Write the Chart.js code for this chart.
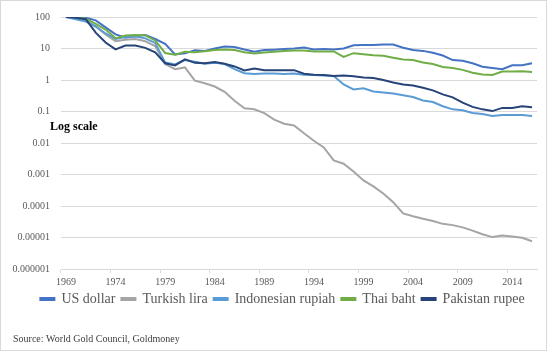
<!DOCTYPE html>
<html><head><meta charset="utf-8">
<script src="https://cdn.jsdelivr.net/npm/chart.js@4"></script>
<style>
html,body{margin:0;padding:0;background:#fff;}
canvas{display:block}
</style></head><body>
<canvas id="c" width="547" height="351"></canvas>
<script>
const years = ['1969','1970','1971','1972','1973','1974','1975','1976','1977','1978',
  '1979','1980','1981','1982','1983','1984','1985','1986','1987','1988',
  '1989','1990','1991','1992','1993','1994','1995','1996','1997','1998',
  '1999','2000','2001','2002','2003','2004','2005','2006','2007','2008',
  '2009','2010','2011','2012','2013','2014','2015','2016'];
const xTickLabels = ['1969','1974','1979','1984','1989','1994','1999','2004','2009','2014'];

const usDollar = [100,100,95,78,47,28,22,25,27,20,
  14,6.5,7.0,8.8,8.3,10,11.5,11.2,9.3,7.9,
  8.9,9.2,9.6,10,10.7,9.3,9.6,9.3,10,12.6,
  12.8,12.8,13.3,13.3,10.6,8.9,8.4,7.3,6.0,4.3,
  4.1,3.4,2.65,2.4,2.2,2.95,2.95,3.4];
const turkishLira = [100,92,75,50,28,17,19,20,17,12,
  3.2,2.2,2.5,0.95,0.79,0.62,0.42,0.22,0.127,0.118,
  0.089,0.055,0.041,0.036,0.0204,0.0118,0.0072,0.0028,0.0022,0.00124,
  0.00065,0.00042,0.00025,0.000132,0.000058,0.000047,0.0000396,0.0000336,0.0000271,0.0000247,
  0.000021,0.0000165,0.0000127,0.0000103,0.0000116,0.0000107,0.0000098,0.0000076];
const indonesianRupiah = [100,85,72,50,30,20,23,24,21,15,
  3.6,3.1,4.3,3.8,3.3,3.5,3.2,2.2,1.65,1.55,
  1.6,1.6,1.55,1.6,1.47,1.45,1.4,1.33,0.72,0.5,
  0.55,0.43,0.4,0.37,0.33,0.29,0.225,0.2,0.147,0.117,
  0.11,0.09,0.083,0.072,0.077,0.077,0.077,0.072];
const thaiBaht = [100,100,88,60,40,21,26,27,26,18,
  7.2,6.3,7.9,7.6,8.2,9.0,9.3,8.9,7.6,6.9,
  7.5,7.9,8.3,8.6,8.6,8.1,8.1,8.1,5.4,7.1,
  6.6,6.1,5.9,5.1,4.5,4.3,3.6,3.2,2.6,2.4,
  2.1,1.7,1.5,1.45,1.85,1.85,1.9,1.8];
const pakistanRupee = [100,95,85,32,15.5,9.4,12.5,12.5,10.5,7.6,
  3.4,2.9,4.5,3.5,3.4,3.7,3.3,2.7,2.0,2.3,
  2.05,2.05,2.05,2.05,1.58,1.47,1.45,1.35,1.4,1.32,
  1.2,1.16,1.0,0.83,0.72,0.67,0.57,0.47,0.35,0.28,
  0.19,0.14,0.117,0.103,0.13,0.13,0.147,0.137];

const yTickValues = [100,10,1,0.1,0.01,0.001,0.0001,0.00001,0.000001];
const yTickLabels = ['100','10','1','0.1','0.01','0.001','0.0001','0.00001','0.000001'];

const seriesNames = ['US dollar','Turkish lira','Indonesian rupiah','Thai baht','Pakistan rupee'];
const seriesColors = ['#4472C4','#A5A5A5','#5B9BD5','#70AD47','#264478'];
const seriesData = [usDollar, turkishLira, indonesianRupiah, thaiBaht, pakistanRupee];

const FONT = "'Liberation Serif', 'Times New Roman', serif";

const extras = {
  id: 'extras',
  afterLayout(chart) {
    if (chart.legend) { chart.legend.left += 14; chart.legend.right += 14; }
  },
  beforeDraw(chart) {
    const ctx = chart.ctx;
    ctx.save();
    ctx.fillStyle = '#fff';
    ctx.fillRect(0, 0, chart.width, chart.height);
    ctx.restore();
  },
  afterDraw(chart) {
    const ctx = chart.ctx;
    ctx.save();
    ctx.strokeStyle = '#d9d9d9';
    ctx.lineWidth = 1;
    ctx.strokeRect(0.5, 0.5, chart.width - 1, chart.height - 1);
    ctx.fillStyle = '#000';
    ctx.font = "bold 12px " + FONT;
    ctx.textBaseline = 'alphabetic';
    ctx.fillText('Log scale', 50, 130);
    ctx.fillStyle = '#404040';
    ctx.font = "10px " + FONT;
    ctx.fillText('Source: World Gold Council, Goldmoney', 13, 342);
    ctx.restore();
  }
};

new Chart(document.getElementById('c'), {
  type: 'line',
  data: {
    labels: years,
    datasets: seriesData.map((d, i) => ({
      label: seriesNames[i],
      data: d,
      borderColor: seriesColors[i],
      backgroundColor: seriesColors[i],
      borderWidth: 2,
      pointRadius: 0,
      fill: false,
      tension: 0,
      order: -i
    }))
  },
  options: {
    responsive: false,
    animation: false,
    devicePixelRatio: 1,
    layout: { padding: { left: 0, right: 10, top: 12, bottom: 35 } },
    plugins: {
      tooltip: { enabled: false },
      legend: {
        position: 'bottom',
        labels: {
          boxWidth: 14,
          boxHeight: 2,
          padding: 6,
          color: '#595959',
          font: { family: FONT, size: 14 },
          sort: (a, b) => a.datasetIndex - b.datasetIndex
        }
      }
    },
    scales: {
      x: {
        type: 'category',
        offset: true,
        afterFit(scale) { scale.height = 17; },
        border: { display: true, color: '#d9d9d9' },
        grid: {
          display: true,
          offset: true,
          drawOnChartArea: false,
          drawTicks: true,
          tickLength: 4,
          color: (c) => (c.index % 5 === 0 && c.index < years.length) ? '#d9d9d9' : 'rgba(0,0,0,0)'
        },
        ticks: {
          autoSkip: false,
          maxRotation: 0,
          padding: 3,
          color: '#595959',
          font: { family: FONT, size: 10 },
          callback: (v, i) => xTickLabels.includes(years[i]) ? years[i] : ''
        }
      },
      y: {
        type: 'logarithmic',
        min: 0.000001,
        max: 100,
        afterFit(scale) { scale.width = 61; },
        afterBuildTicks(scale) { scale.ticks = yTickValues.map(v => ({ value: v })); },
        border: { display: false },
        grid: { color: '#d9d9d9', lineWidth: 1, drawTicks: false },
        ticks: {
          padding: 11,
          color: '#595959',
          font: { family: FONT, size: 10 },
          callback: (v) => {
            const k = yTickValues.findIndex(t => Math.abs(Math.log10(t) - Math.log10(v)) < 1e-6);
            return k >= 0 ? yTickLabels[k] : '';
          }
        }
      }
    }
  },
  plugins: [extras]
});
</script>
</body></html>
